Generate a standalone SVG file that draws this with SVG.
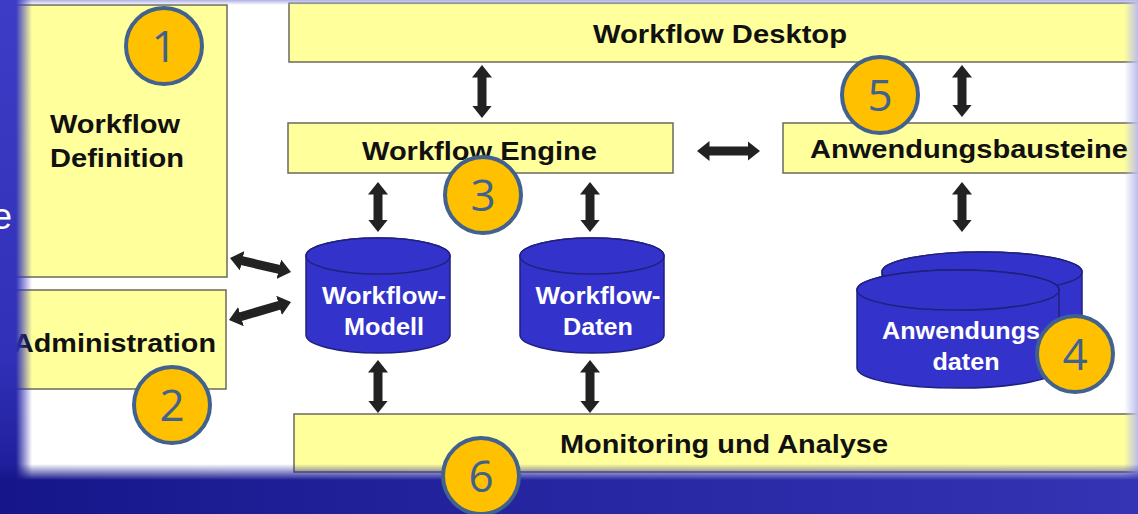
<svg xmlns="http://www.w3.org/2000/svg" width="1138" height="514" viewBox="0 0 1138 514">
<defs>
<style>
.box{fill:#ffff9c;stroke:#6a6a5c;stroke-width:1.5}
.lbl{font-family:"Liberation Sans",Arial,sans-serif;font-weight:bold;font-size:26px;fill:#111}
.clbl{font-family:"Liberation Sans",Arial,sans-serif;font-weight:bold;font-size:24px;fill:#fff;text-anchor:middle}
.cyl{fill:#3333cc;stroke:#20207e;stroke-width:1.5}
.arr{stroke:#222;stroke-width:9;fill:none;marker-start:url(#ah);marker-end:url(#ah)}
.badge circle{fill:#ffc000;stroke:#41618e;stroke-width:4}
.badge text{font-family:"Open Sans","Liberation Sans",sans-serif;font-size:44px;fill:#41618e;text-anchor:middle}
</style>
<marker id="ah" viewBox="0 -10 13 20" refX="0.5" refY="0" markerWidth="13" markerHeight="20" markerUnits="userSpaceOnUse" orient="auto-start-reverse">
<path d="M0,-10 L12.5,0 L0,10 z" fill="#222"/>
</marker>
<linearGradient id="leftg" x1="0" y1="0" x2="0" y2="1"><stop offset="0" stop-color="#3c3cc6"/><stop offset="0.7" stop-color="#3030b8"/><stop offset="1" stop-color="#181890"/></linearGradient>
<linearGradient id="botg" x1="0" y1="0" x2="1" y2="0"><stop offset="0" stop-color="#16168a"/><stop offset="0.5" stop-color="#2626a2"/><stop offset="1" stop-color="#3434b4"/></linearGradient>
<linearGradient id="fadeL" x1="0" y1="0" x2="1" y2="0"><stop offset="0.5" stop-color="#fff"/><stop offset="1" stop-color="#000"/></linearGradient>
<linearGradient id="fadeB" x1="0" y1="0" x2="0" y2="1"><stop offset="0" stop-color="#000"/><stop offset="0.32" stop-color="#fff"/></linearGradient>
<linearGradient id="topg" x1="0" y1="0" x2="0" y2="1"><stop offset="0" stop-color="#b0b0e6"/><stop offset="1" stop-color="#b0b0e6" stop-opacity="0"/></linearGradient>
<linearGradient id="rightg" x1="0" y1="0" x2="1" y2="0"><stop offset="0" stop-color="#c4c4ee" stop-opacity="0"/><stop offset="1" stop-color="#bcbcec"/></linearGradient>
<mask id="mL" maskUnits="userSpaceOnUse" x="0" y="0" width="40" height="514"><rect x="0" y="0" width="32" height="514" fill="url(#fadeL)"/></mask>
<mask id="mB" maskUnits="userSpaceOnUse" x="0" y="460" width="1138" height="54"><rect x="0" y="464" width="1138" height="50" fill="url(#fadeB)"/></mask>
</defs>
<rect x="0" y="0" width="1138" height="514" fill="#ffffff"/>

<g id="workflow-definition">
<rect class="box" x="10" y="5" width="217" height="272"/>
<text class="lbl" x="50" y="133" textLength="130" lengthAdjust="spacingAndGlyphs">Workflow</text>
<text class="lbl" x="50" y="167" textLength="134" lengthAdjust="spacingAndGlyphs">Definition</text>
</g>
<g id="administration">
<rect class="box" x="10" y="290" width="216" height="99"/>
<text class="lbl" x="13" y="352" textLength="203" lengthAdjust="spacingAndGlyphs">Administration</text>
</g>
<g id="workflow-desktop">
<rect class="box" x="289" y="3" width="860" height="59"/>
<text class="lbl" x="593" y="43" textLength="254" lengthAdjust="spacingAndGlyphs">Workflow Desktop</text>
</g>
<g id="workflow-engine">
<rect class="box" x="288" y="123" width="385" height="50"/>
<text class="lbl" x="362" y="160" textLength="235" lengthAdjust="spacingAndGlyphs">Workflow Engine</text>
</g>
<g id="anwendungsbausteine">
<rect class="box" x="783" y="123" width="366" height="50"/>
<text class="lbl" x="810" y="158" textLength="318" lengthAdjust="spacingAndGlyphs">Anwendungsbausteine</text>
</g>
<g id="monitoring">
<rect class="box" x="294" y="414" width="855" height="58"/>
<text class="lbl" x="560" y="453" textLength="328" lengthAdjust="spacingAndGlyphs">Monitoring und Analyse</text>
</g>

<g id="connectors">
<line class="arr" x1="482" y1="77" x2="482" y2="106"/>
<line class="arr" x1="378" y1="194" x2="378" y2="220"/>
<line class="arr" x1="590" y1="194" x2="590" y2="220"/>
<line class="arr" x1="962" y1="77" x2="962" y2="105"/>
<line class="arr" x1="962" y1="194" x2="962" y2="220"/>
<line class="arr" x1="378" y1="372" x2="378" y2="401"/>
<line class="arr" x1="590" y1="372" x2="590" y2="401"/>
<line class="arr" x1="709" y1="151" x2="748" y2="151"/>
<line class="arr" x1="241.7" y1="260.7" x2="279.3" y2="269.3"/>
<line class="arr" x1="240.5" y1="316.7" x2="279.5" y2="305.3"/>
</g>

<g id="workflow-modell">
<path class="cyl" d="M306,256 L306,335 A72,18 0 0 0 450,335 L450,256 A72,18 0 0 0 306,256 z"/>
<ellipse class="cyl" cx="378" cy="256" rx="72" ry="18"/>
<text class="clbl" x="384" y="304" textLength="124" lengthAdjust="spacingAndGlyphs">Workflow-</text>
<text class="clbl" x="384" y="335" textLength="80" lengthAdjust="spacingAndGlyphs">Modell</text>
</g>
<g id="workflow-daten">
<path class="cyl" d="M520,256 L520,335 A72,18 0 0 0 664,335 L664,256 A72,18 0 0 0 520,256 z"/>
<ellipse class="cyl" cx="592" cy="256" rx="72" ry="18"/>
<text class="clbl" x="598" y="304" textLength="125" lengthAdjust="spacingAndGlyphs">Workflow-</text>
<text class="clbl" x="598" y="335" textLength="70" lengthAdjust="spacingAndGlyphs">Daten</text>
</g>
<g id="anwendungsdaten">
<path class="cyl" d="M882,272 L882,350 A100,20 0 0 0 1082,350 L1082,272 A100,20 0 0 0 882,272 z"/>
<ellipse class="cyl" cx="982" cy="272" rx="100" ry="20"/>
<path class="cyl" d="M857,290 L857,368 A101,20 0 0 0 1059,368 L1059,290 A101,20 0 0 0 857,290 z"/>
<ellipse class="cyl" cx="958" cy="290" rx="101" ry="20"/>
<text class="clbl" x="961" y="339" textLength="158" lengthAdjust="spacingAndGlyphs">Anwendungs</text>
<text class="clbl" x="966" y="370" textLength="67" lengthAdjust="spacingAndGlyphs">daten</text>
</g>

<g id="frame">
<rect x="0" y="0" width="1138" height="5" fill="url(#topg)"/>
<rect x="1124" y="0" width="14" height="514" fill="url(#rightg)"/>
<rect x="0" y="0" width="32" height="514" fill="url(#leftg)" mask="url(#mL)"/>
<rect x="0" y="464" width="1138" height="50" fill="url(#botg)" mask="url(#mB)"/>
</g>
<text x="-8" y="229" font-family="Liberation Sans, Arial, sans-serif" font-size="36" fill="#ffffff">e</text>

<g id="badge-1" class="badge"><circle cx="164" cy="46" r="38"/><text x="164" y="62">1</text></g>
<g id="badge-2" class="badge"><circle cx="172" cy="405" r="38"/><text x="172" y="421">2</text></g>
<g id="badge-3" class="badge"><circle cx="483" cy="195" r="38"/><text x="483" y="211">3</text></g>
<g id="badge-4" class="badge"><circle cx="1075" cy="354" r="38"/><text x="1075" y="370">4</text></g>
<g id="badge-5" class="badge"><circle cx="880" cy="95" r="38"/><text x="880" y="111">5</text></g>
<g id="badge-6" class="badge"><circle cx="481" cy="476" r="38"/><text x="481" y="492">6</text></g>
</svg>
